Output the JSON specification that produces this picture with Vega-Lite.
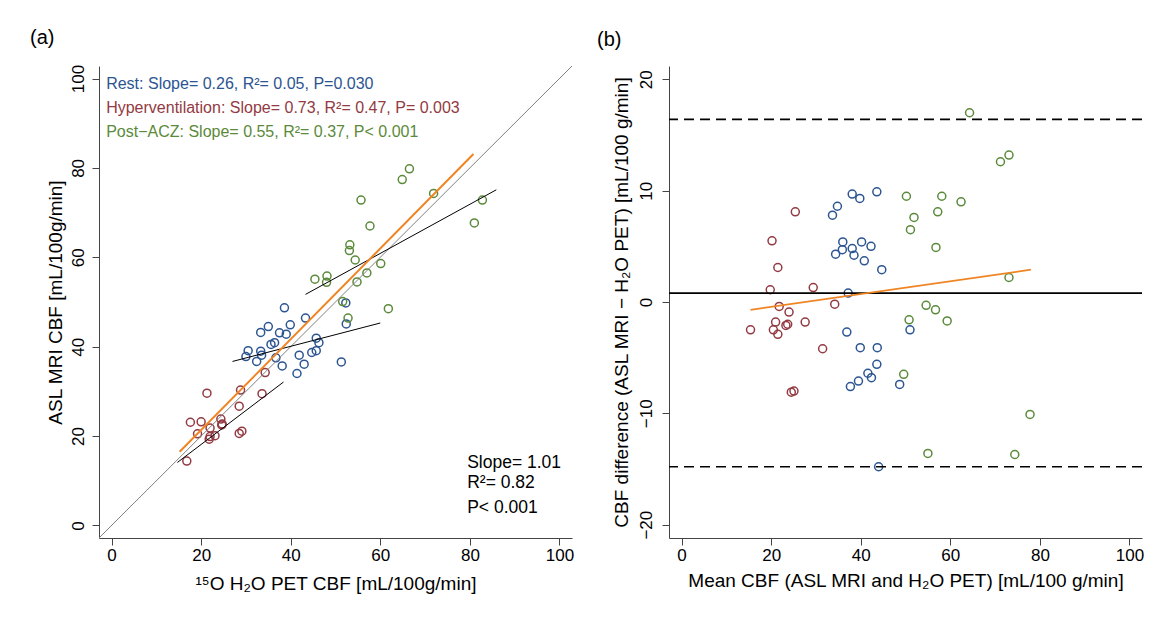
{
  "$schema": "https://vega.github.io/schema/vega-lite/v6.json",
  "background": "white",
  "padding": {"left": 30, "top": 28, "right": 5, "bottom": 5},
  "spacing": 23,
  "config": {
    "font": "Liberation Sans",
    "view": {"stroke": null},
    "axis": {
      "grid": false,
      "domainColor": "#444444",
      "tickColor": "#444444",
      "tickSize": 7,
      "labelFontSize": 17,
      "titleFontSize": 19,
      "labelColor": "#000000",
      "titleColor": "#000000",
      "titleFontWeight": "normal",
      "labelFont": "Liberation Sans",
      "titleFont": "Liberation Sans"
    },
    "title": {"fontSize": 20, "fontWeight": "normal", "font": "Liberation Sans", "anchor": "start", "frame": "group"}
  },
  "datasets": {
    "subjects": [
      {"group": "Hyperventilation", "pet": 34.3, "mri": 34.2, "mean": 34.2, "diff": -0.2},
      {"group": "Hyperventilation", "pet": 21.3, "mri": 29.6, "mean": 25.4, "diff": 8.1},
      {"group": "Hyperventilation", "pet": 28.8, "mri": 30.3, "mean": 29.4, "diff": 1.3},
      {"group": "Hyperventilation", "pet": 33.6, "mri": 29.5, "mean": 31.5, "diff": -4.2},
      {"group": "Hyperventilation", "pet": 28.5, "mri": 26.7, "mean": 27.6, "diff": -1.8},
      {"group": "Hyperventilation", "pet": 17.6, "mri": 23.1, "mean": 20.2, "diff": 5.5},
      {"group": "Hyperventilation", "pet": 20.0, "mri": 23.2, "mean": 21.5, "diff": 3.1},
      {"group": "Hyperventilation", "pet": 24.4, "mri": 23.8, "mean": 24.0, "diff": -0.9},
      {"group": "Hyperventilation", "pet": 24.6, "mri": 22.5, "mean": 23.3, "diff": -2.1},
      {"group": "Hyperventilation", "pet": 22.0, "mri": 21.8, "mean": 21.8, "diff": -0.4},
      {"group": "Hyperventilation", "pet": 19.2, "mri": 20.5, "mean": 19.8, "diff": 1.1},
      {"group": "Hyperventilation", "pet": 22.0, "mri": 19.9, "mean": 21.0, "diff": -1.8},
      {"group": "Hyperventilation", "pet": 23.1, "mri": 20.1, "mean": 21.5, "diff": -2.9},
      {"group": "Hyperventilation", "pet": 28.5, "mri": 20.6, "mean": 24.5, "diff": -8.1},
      {"group": "Hyperventilation", "pet": 29.1, "mri": 21.1, "mean": 25.1, "diff": -8.0},
      {"group": "Hyperventilation", "pet": 16.8, "mri": 14.4, "mean": 15.4, "diff": -2.5},
      {"group": "Hyperventilation", "pet": 21.8, "mri": 19.3, "mean": 20.5, "diff": -2.5},
      {"group": "Hyperventilation", "pet": 24.7, "mri": 22.7, "mean": 23.7, "diff": -2.0},
      {"group": "Rest", "pet": 38.6, "mri": 48.7, "mean": 43.6, "diff": 9.9},
      {"group": "Rest", "pet": 52.3, "mri": 49.8, "mean": 51.0, "diff": -2.5},
      {"group": "Rest", "pet": 52.4, "mri": 45.1, "mean": 48.7, "diff": -7.4},
      {"group": "Rest", "pet": 43.3, "mri": 46.4, "mean": 44.7, "diff": 2.9},
      {"group": "Rest", "pet": 35.0, "mri": 44.5, "mean": 39.8, "diff": 9.3},
      {"group": "Rest", "pet": 33.3, "mri": 43.2, "mean": 38.1, "diff": 9.7},
      {"group": "Rest", "pet": 39.9, "mri": 44.9, "mean": 42.3, "diff": 5.0},
      {"group": "Rest", "pet": 37.5, "mri": 43.1, "mean": 40.2, "diff": 5.4},
      {"group": "Rest", "pet": 39.0, "mri": 42.8, "mean": 40.8, "diff": 3.7},
      {"group": "Rest", "pet": 45.7, "mri": 41.9, "mean": 43.7, "diff": -4.1},
      {"group": "Rest", "pet": 46.3, "mri": 40.9, "mean": 43.6, "diff": -5.6},
      {"group": "Rest", "pet": 36.4, "mri": 40.9, "mean": 38.5, "diff": 4.2},
      {"group": "Rest", "pet": 35.6, "mri": 40.5, "mean": 38.1, "diff": 4.8},
      {"group": "Rest", "pet": 45.7, "mri": 39.1, "mean": 42.4, "diff": -6.8},
      {"group": "Rest", "pet": 44.7, "mri": 38.7, "mean": 41.6, "diff": -6.4},
      {"group": "Rest", "pet": 41.9, "mri": 38.1, "mean": 39.9, "diff": -4.1},
      {"group": "Rest", "pet": 43.0, "mri": 36.1, "mean": 39.5, "diff": -7.1},
      {"group": "Rest", "pet": 41.4, "mri": 34.0, "mean": 37.7, "diff": -7.6},
      {"group": "Rest", "pet": 38.1, "mri": 35.7, "mean": 36.9, "diff": -2.7},
      {"group": "Rest", "pet": 36.7, "mri": 37.5, "mean": 37.2, "diff": 0.8},
      {"group": "Rest", "pet": 30.5, "mri": 39.1, "mean": 34.8, "diff": 8.6},
      {"group": "Rest", "pet": 30.0, "mri": 37.8, "mean": 33.7, "diff": 7.8},
      {"group": "Rest", "pet": 33.3, "mri": 39.0, "mean": 36.0, "diff": 5.4},
      {"group": "Rest", "pet": 33.5, "mri": 38.1, "mean": 35.9, "diff": 4.7},
      {"group": "Rest", "pet": 32.4, "mri": 36.7, "mean": 34.4, "diff": 4.3},
      {"group": "Rest", "pet": 51.3, "mri": 36.6, "mean": 44.0, "diff": -14.8},
      {"group": "Post-ACZ", "pet": 66.5, "mri": 79.8, "mean": 73.1, "diff": 13.2},
      {"group": "Post-ACZ", "pet": 64.9, "mri": 77.4, "mean": 71.2, "diff": 12.6},
      {"group": "Post-ACZ", "pet": 71.9, "mri": 74.3, "mean": 73.1, "diff": 2.2},
      {"group": "Post-ACZ", "pet": 55.7, "mri": 72.8, "mean": 64.3, "diff": 17.0},
      {"group": "Post-ACZ", "pet": 57.7, "mri": 67.0, "mean": 62.4, "diff": 9.0},
      {"group": "Post-ACZ", "pet": 53.2, "mri": 62.8, "mean": 58.1, "diff": 9.5},
      {"group": "Post-ACZ", "pet": 53.1, "mri": 61.5, "mean": 57.2, "diff": 8.1},
      {"group": "Post-ACZ", "pet": 54.4, "mri": 59.4, "mean": 56.8, "diff": 4.9},
      {"group": "Post-ACZ", "pet": 60.1, "mri": 58.6, "mean": 59.3, "diff": -1.7},
      {"group": "Post-ACZ", "pet": 57.0, "mri": 56.5, "mean": 56.7, "diff": -0.7},
      {"group": "Post-ACZ", "pet": 48.1, "mri": 55.8, "mean": 51.9, "diff": 7.6},
      {"group": "Post-ACZ", "pet": 48.0, "mri": 54.4, "mean": 51.1, "diff": 6.5},
      {"group": "Post-ACZ", "pet": 45.4, "mri": 55.1, "mean": 50.2, "diff": 9.5},
      {"group": "Post-ACZ", "pet": 54.8, "mri": 54.5, "mean": 54.6, "diff": -0.3},
      {"group": "Post-ACZ", "pet": 51.6, "mri": 50.1, "mean": 50.8, "diff": -1.6},
      {"group": "Post-ACZ", "pet": 61.8, "mri": 48.5, "mean": 55.0, "diff": -13.6},
      {"group": "Post-ACZ", "pet": 52.8, "mri": 46.4, "mean": 49.6, "diff": -6.5},
      {"group": "Post-ACZ", "pet": 81.0, "mri": 67.7, "mean": 74.4, "diff": -13.7},
      {"group": "Post-ACZ", "pet": 82.8, "mri": 72.8, "mean": 77.8, "diff": -10.1}
    ],
    "leftLines": [
      {"line": "identity", "x": -2.8, "y": -2.8},
      {"line": "identity", "x": 102.8, "y": 102.8},
      {"line": "rest", "x": 27.0, "y": 36.7},
      {"line": "rest", "x": 60.0, "y": 45.3},
      {"line": "hyper", "x": 14.7, "y": 14.1},
      {"line": "hyper", "x": 38.4, "y": 32.1},
      {"line": "acz", "x": 43.3, "y": 51.7},
      {"line": "acz", "x": 85.9, "y": 75.1},
      {"line": "overall", "x": 15.2, "y": 16.5},
      {"line": "overall", "x": 80.8, "y": 83.1}
    ],
    "leftText": [
      {"group": "Rest", "label": "Rest: Slope= 0.26, R²= 0.05, P=0.030", "x": -1.2, "y": 98.7},
      {"group": "Hyperventilation", "label": "Hyperventilation: Slope= 0.73, R²= 0.47, P= 0.003", "x": -1.2, "y": 93.3},
      {"group": "Post-ACZ", "label": "Post−ACZ: Slope= 0.55, R²= 0.37, P< 0.001", "x": -1.2, "y": 88.1}
    ],
    "statText": [
      {"label": "Slope= 1.01", "x": 79.4, "y": 14.0},
      {"label": "R²= 0.82", "x": 79.4, "y": 9.4},
      {"label": "P< 0.001", "x": 79.4, "y": 4.0}
    ],
    "baLevels": [
      {"level": "mean", "y": 0.8},
      {"level": "upper", "y": 16.4},
      {"level": "lower", "y": -14.8}
    ],
    "baTrend": [
      {"x": 15.4, "y": -0.7},
      {"x": 78.0, "y": 2.9}
    ]
  },
  "hconcat": [
    {
      "width": 473,
      "height": 472,
      "title": {"text": "(a)", "dx": -69, "offset": 16},
      "layer": [
        {
          "data": {"name": "subjects"},
          "mark": {"type": "point", "shape": "circle", "filled": false, "size": 64, "strokeWidth": 1.5, "opacity": 1},
          "encoding": {
            "x": {"field": "pet", "type": "quantitative", "title": "¹⁵O H₂O PET CBF [mL/100g/min]",
                  "scale": {"domain": [-2.8, 102.8], "nice": false, "zero": false},
                  "axis": {"values": [0, 20, 40, 60, 80, 100], "labelPadding": 2, "titleX": 236.5, "titleY": 45, "titleBaseline": "middle", "titleAlign": "center"}},
            "y": {"field": "mri", "type": "quantitative", "title": "ASL MRI CBF [mL/100g/min]",
                  "scale": {"domain": [-2.8, 102.8], "nice": false, "zero": false},
                  "axis": {"values": [0, 20, 40, 60, 80, 100], "labelAngle": -90, "labelPadding": 5, "titleX": -44, "titleY": 236, "titleAngle": 270, "titleBaseline": "middle", "titleAlign": "center"}},
            "color": {"field": "group", "type": "nominal", "legend": null,
                      "scale": {"domain": ["Rest", "Hyperventilation", "Post-ACZ"], "range": ["#2c5591", "#933a43", "#5b8a3b"]}}
          }
        },
        {
          "data": {"name": "leftLines"},
          "transform": [{"filter": "datum.line === 'identity'"}],
          "mark": {"type": "line", "color": "#808080", "strokeWidth": 1},
          "encoding": {
            "x": {"field": "x", "type": "quantitative", "title": "¹⁵O H₂O PET CBF [mL/100g/min]", "scale": {"domain": [-2.8, 102.8], "nice": false, "zero": false}},
            "y": {"field": "y", "type": "quantitative", "title": "ASL MRI CBF [mL/100g/min]", "scale": {"domain": [-2.8, 102.8], "nice": false, "zero": false}},
            "detail": {"field": "line"}
          }
        },
        {
          "data": {"name": "leftLines"},
          "transform": [{"filter": "datum.line === 'rest' || datum.line === 'hyper' || datum.line === 'acz'"}],
          "mark": {"type": "line", "color": "#000000", "strokeWidth": 1},
          "encoding": {
            "x": {"field": "x", "type": "quantitative", "title": "¹⁵O H₂O PET CBF [mL/100g/min]", "scale": {"domain": [-2.8, 102.8], "nice": false, "zero": false}},
            "y": {"field": "y", "type": "quantitative", "title": "ASL MRI CBF [mL/100g/min]", "scale": {"domain": [-2.8, 102.8], "nice": false, "zero": false}},
            "detail": {"field": "line"}
          }
        },
        {
          "data": {"name": "leftLines"},
          "transform": [{"filter": "datum.line === 'overall'"}],
          "mark": {"type": "line", "color": "#ef8423", "strokeWidth": 2},
          "encoding": {
            "x": {"field": "x", "type": "quantitative", "title": "¹⁵O H₂O PET CBF [mL/100g/min]", "scale": {"domain": [-2.8, 102.8], "nice": false, "zero": false}},
            "y": {"field": "y", "type": "quantitative", "title": "ASL MRI CBF [mL/100g/min]", "scale": {"domain": [-2.8, 102.8], "nice": false, "zero": false}},
            "detail": {"field": "line"}
          }
        },
        {
          "data": {"name": "leftText"},
          "mark": {"type": "text", "align": "left", "baseline": "middle", "fontSize": 16, "font": "Liberation Sans"},
          "encoding": {
            "x": {"field": "x", "type": "quantitative", "title": "¹⁵O H₂O PET CBF [mL/100g/min]", "scale": {"domain": [-2.8, 102.8], "nice": false, "zero": false}},
            "y": {"field": "y", "type": "quantitative", "title": "ASL MRI CBF [mL/100g/min]", "scale": {"domain": [-2.8, 102.8], "nice": false, "zero": false}},
            "text": {"field": "label"},
            "color": {"field": "group", "type": "nominal", "legend": null,
                      "scale": {"domain": ["Rest", "Hyperventilation", "Post-ACZ"], "range": ["#2c5591", "#933a43", "#5b8a3b"]}}
          }
        },
        {
          "data": {"name": "statText"},
          "mark": {"type": "text", "align": "left", "baseline": "middle", "fontSize": 17.5, "font": "Liberation Sans", "color": "#000000"},
          "encoding": {
            "x": {"field": "x", "type": "quantitative", "title": "¹⁵O H₂O PET CBF [mL/100g/min]", "scale": {"domain": [-2.8, 102.8], "nice": false, "zero": false}},
            "y": {"field": "y", "type": "quantitative", "title": "ASL MRI CBF [mL/100g/min]", "scale": {"domain": [-2.8, 102.8], "nice": false, "zero": false}},
            "text": {"field": "label"}
          }
        }
      ]
    },
    {
      "width": 473,
      "height": 472,
      "title": {"text": "(b)", "dx": -72, "offset": 16},
      "layer": [
        {
          "data": {"name": "subjects"},
          "mark": {"type": "point", "shape": "circle", "filled": false, "size": 64, "strokeWidth": 1.5, "opacity": 1},
          "encoding": {
            "x": {"field": "mean", "type": "quantitative", "title": "Mean CBF (ASL MRI and H₂O PET) [mL/100 g/min]",
                  "scale": {"domain": [-2.8, 102.8], "nice": false, "zero": false},
                  "axis": {"values": [0, 20, 40, 60, 80, 100], "labelPadding": 2, "titleX": 236.5, "titleY": 42, "titleBaseline": "middle", "titleAlign": "center"}},
            "y": {"field": "diff", "type": "quantitative", "title": "CBF difference (ASL MRI − H₂O PET) [mL/100 g/min]",
                  "scale": {"domain": [-21.2, 21.2], "nice": false, "zero": false},
                  "axis": {"values": [-20, -10, 0, 10, 20], "labelAngle": -90, "labelPadding": 7, "titleX": -48, "titleY": 236, "titleAngle": 270, "titleBaseline": "middle", "titleAlign": "center"}},
            "color": {"field": "group", "type": "nominal", "legend": null,
                      "scale": {"domain": ["Rest", "Hyperventilation", "Post-ACZ"], "range": ["#2c5591", "#933a43", "#5b8a3b"]}}
          }
        },
        {
          "data": {"name": "baLevels"},
          "mark": {"type": "rule", "color": "#000000"},
          "encoding": {
            "y": {"field": "y", "type": "quantitative", "title": "CBF difference (ASL MRI − H₂O PET) [mL/100 g/min]", "scale": {"domain": [-21.2, 21.2], "nice": false, "zero": false}},
            "strokeDash": {"field": "level", "type": "nominal", "legend": null,
                           "scale": {"domain": ["mean", "upper", "lower"], "range": [[1, 0], [10, 6], [10, 6]]}},
            "strokeWidth": {"field": "level", "type": "nominal", "legend": null,
                            "scale": {"domain": ["mean", "upper", "lower"], "range": [1.8, 1.6, 1.6]}}
          }
        },
        {
          "data": {"name": "baTrend"},
          "mark": {"type": "line", "color": "#ef8423", "strokeWidth": 1.8},
          "encoding": {
            "x": {"field": "x", "type": "quantitative", "title": "Mean CBF (ASL MRI and H₂O PET) [mL/100 g/min]", "scale": {"domain": [-2.8, 102.8], "nice": false, "zero": false}},
            "y": {"field": "y", "type": "quantitative", "title": "CBF difference (ASL MRI − H₂O PET) [mL/100 g/min]", "scale": {"domain": [-21.2, 21.2], "nice": false, "zero": false}}
          }
        }
      ]
    }
  ]
}
